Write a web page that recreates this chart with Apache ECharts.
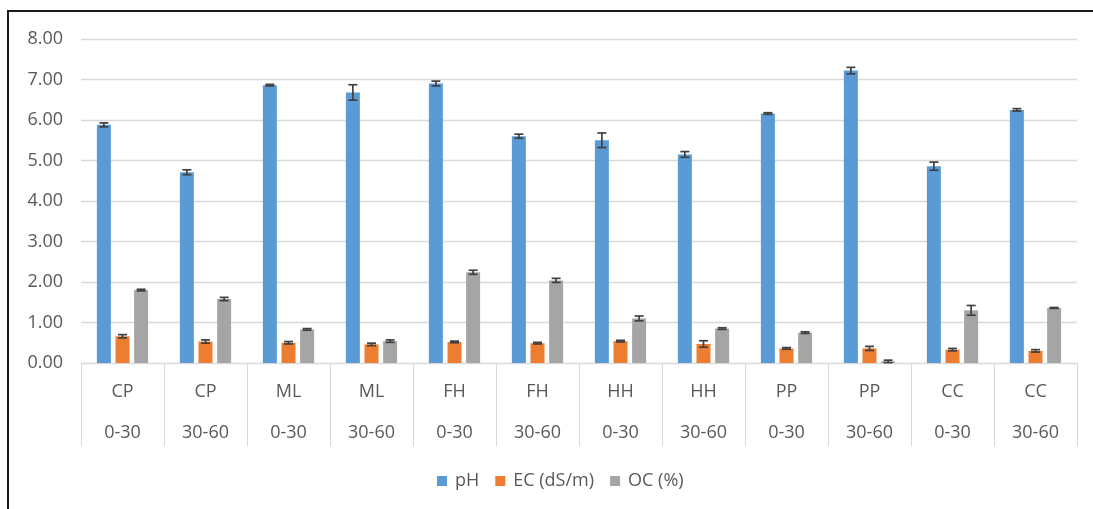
<!DOCTYPE html>
<html>
<head>
<meta charset="utf-8">
<script src="https://cdn.jsdelivr.net/npm/echarts@6/dist/echarts.min.js"></script>
<style>
html,body{margin:0;padding:0;background:#fff;}
#chart{width:1093px;height:509px;}
</style>
</head>
<body>
<div id="chart"></div>
<script>
// ---- data ----
const sites  = ['CP','CP','ML','ML','FH','FH','HH','HH','PP','PP','CC','CC'];
const depths = ['0-30','30-60','0-30','30-60','0-30','30-60','0-30','30-60','0-30','30-60','0-30','30-60'];
const seriesNames = ['pH','EC (dS/m)','OC (%)'];
const pH    = [5.88, 4.71, 6.86, 6.68, 6.90, 5.60, 5.50, 5.15, 6.16, 7.22, 4.86, 6.25];
const pHErr = [0.05, 0.06, 0.02, 0.19, 0.06, 0.05, 0.18, 0.07, 0.02, 0.08, 0.10, 0.03];
const EC    = [0.66, 0.53, 0.50, 0.46, 0.52, 0.49, 0.54, 0.47, 0.36, 0.36, 0.33, 0.30];
const ECErr = [0.04, 0.04, 0.03, 0.03, 0.02, 0.02, 0.02, 0.08, 0.02, 0.05, 0.03, 0.03];
const OC    = [1.80, 1.58, 0.83, 0.54, 2.24, 2.04, 1.10, 0.85, 0.75, 0.04, 1.30, 1.36];
const OCErr = [0.02, 0.04, 0.02, 0.03, 0.05, 0.05, 0.06, 0.02, 0.02, 0.03, 0.12, 0.01];
const yTicks = [0,1,2,3,4,5,6,7,8];

// ---- style ----
const colors = ['#5B9BD5','#ED7D31','#A5A5A5'];
const FONT = '"Open Sans", "Liberation Sans", sans-serif';
const TXT = '#595959';
const BAR_W = 14;
const BAR_GAP = 0.33;

const categories = sites.map((s,i)=> s + '\n' + depths[i]);
const values = [pH, EC, OC];
const errs = [pHErr, ECErr, OCErr];

const chart = echarts.init(document.getElementById('chart'), null, {renderer:'canvas'});

function errSeries(si){
  return {
    type:'custom',
    name: seriesNames[si] + ' err',
    z: 10,
    silent: true,
    data: values[si].map((v,i)=>[i, v, errs[si][i]]),
    encode:{x:0, y:1},
    renderItem: function(params, api){
      const idx = api.value(0), v = api.value(1), e = api.value(2);
      const step = BAR_W * (1 + BAR_GAP);
      const off = (si - 1) * step;
      const top = api.coord([idx, v + e]);
      const bot = api.coord([idx, Math.max(0, v - e)]);
      const x = top[0] + off;
      const cap = 4.5;
      const st = {stroke:'#404040', lineWidth:1.7};
      return {type:'group', children:[
        {type:'line', shape:{x1:x, y1:top[1], x2:x, y2:bot[1]}, style:st},
        {type:'line', shape:{x1:x-cap, y1:top[1], x2:x+cap, y2:top[1]}, style:st},
        {type:'line', shape:{x1:x-cap, y1:bot[1], x2:x+cap, y2:bot[1]}, style:st}
      ]};
    }
  };
}

const option = {
  animation:false,
  color: colors,
  grid:{left:81, right:16, top:39, bottom:146, containLabel:false},
  graphic:[{
    type:'rect', z:100, silent:true,
    shape:{x:8, y:11, width:1300, height:700},
    style:{fill:'none', stroke:'#1a1a1a', lineWidth:2}
  }],
  legend:{
    data: seriesNames,
    left: 432, top: 467,
    icon:'rect', itemWidth:10, itemHeight:10, itemGap:16,
    textStyle:{fontFamily:FONT, fontSize:18, color:TXT, padding:[0,0,0,3]}
  },
  xAxis:{
    type:'category',
    data: categories,
    axisLine:{show:true, lineStyle:{color:'#d9d9d9', width:1}},
    axisTick:{show:true, interval:0, length:83, lineStyle:{color:'#d9d9d9', width:1}},
    axisLabel:{interval:0, margin:8, lineHeight:41, fontFamily:FONT, fontSize:18, color:TXT}
  },
  yAxis:{
    type:'value', min:yTicks[0], max:yTicks[yTicks.length-1], interval:1,
    axisLine:{show:false}, axisTick:{show:false},
    splitLine:{lineStyle:{color:'#d9d9d9', width:1.3}},
    axisLabel:{margin:18, fontFamily:FONT, fontSize:18, color:TXT,
      formatter:(v)=>v.toFixed(2)}
  },
  series:[
    ...seriesNames.map((n,si)=>({
      type:'bar', name:n, data: values[si],
      barWidth: BAR_W, barGap: (BAR_GAP*100)+'%',
      itemStyle:{color: colors[si]}
    })),
    errSeries(0), errSeries(1), errSeries(2)
  ]
};
chart.setOption(option);
</script>
</body>
</html>
